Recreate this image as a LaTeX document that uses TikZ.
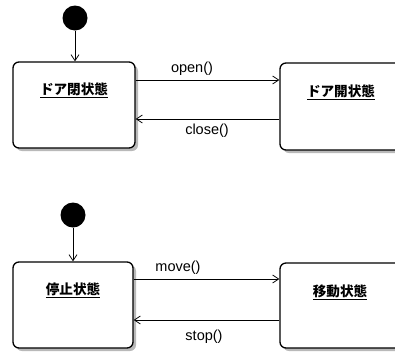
\documentclass[tikz,border=0pt]{standalone}
\usepackage{fontspec}
\setmainfont{Liberation Sans}
\newfontfamily\jp{Noto Sans CJK JP}
\usetikzlibrary{arrows.meta,shadows}
\begin{document}
\begin{tikzpicture}[x=1pt,y=-1pt,
  statebox/.style={draw, line width=1.3pt, rounded corners=6pt, fill=white,
    drop shadow={shadow xshift=3pt, shadow yshift=-3pt, fill=gray!55, opacity=1}},
  statetext/.style={font=\jp\bfseries\fontsize{13.6}{15}\selectfont, inner sep=0pt},
  initial/.style={circle, fill=black, minimum size=25pt, inner sep=0pt},
  trans/.style={-{Straight Barb[length=6pt,width=8pt]}, line width=0.8pt},
  evlabel/.style={font=\fontsize{14.5}{16}\selectfont, inner sep=0pt}]
\useasboundingbox (0,0) rectangle (395,354);
% top diagram
\node[initial] (i1) at (75,18) {};
\node[statebox, minimum width=122pt, minimum height=86pt] (s1) at (74,105) {};
\node[statebox, minimum width=122pt, minimum height=87pt] (s2) at (341,106.5) {};
\node[statetext] (t1) at (74,90) {\underline{ドア閉状態}};
\node[statetext] (t2) at (341,92) {\underline{ドア開状態}};
\draw[trans] (i1) -- (s1.north -| i1);
\draw[trans] ([yshift=25pt]s1.east) -- ([yshift=26.5pt]s2.west);
\draw[trans] ([yshift=-12.5pt]s2.west) -- ([yshift=-14pt]s1.east);
\node[evlabel] (l1) at (192,69) {open()};
\node[evlabel] (l2) at (207,131) {close()};
% bottom diagram
\node[initial] (i2) at (73,215) {};
\node[statebox, minimum width=120pt, minimum height=86pt] (s3) at (73,305) {};
\node[statebox, minimum width=122pt, minimum height=85pt] (s4) at (341,305.5) {};
\node[statetext] (t3) at (73,290) {\underline{停止状態}};
\node[statetext] (t4) at (340,292) {\underline{移動状態}};
\draw[trans] (i2) -- (s3.north -| i2);
\draw[trans] ([yshift=26pt]s3.east) -- ([yshift=26.5pt]s4.west);
\draw[trans] ([yshift=-14.5pt]s4.west) -- ([yshift=-15pt]s3.east);
\node[evlabel] (l3) at (178,268) {move()};
\node[evlabel] (l4) at (204,337) {stop()};
\end{tikzpicture}
\end{document}
